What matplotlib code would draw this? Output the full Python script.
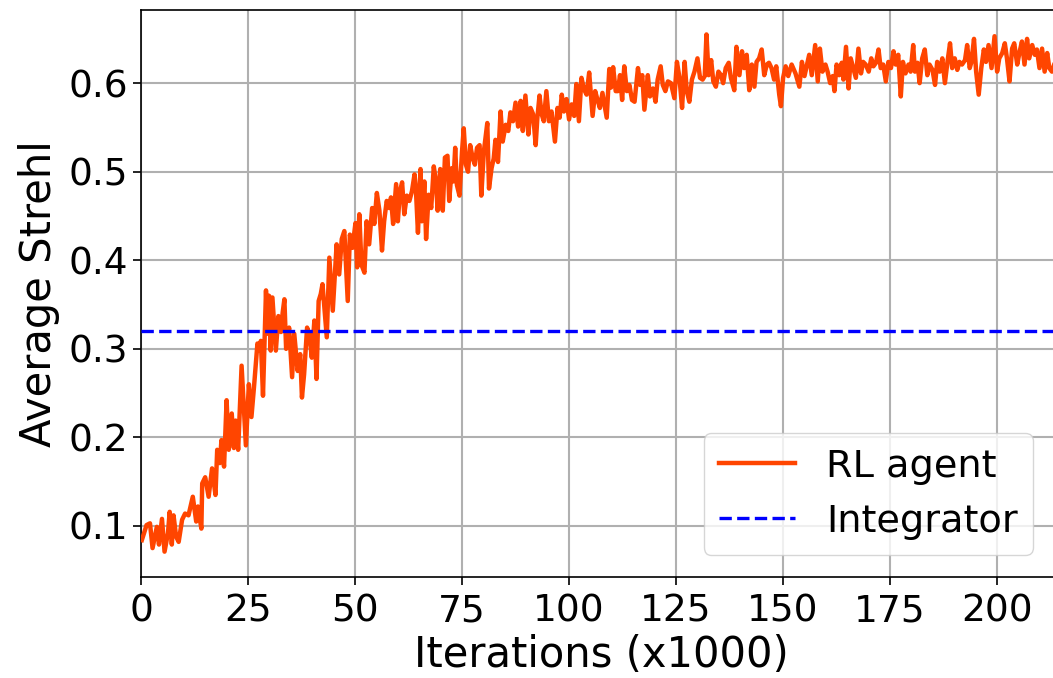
import matplotlib
matplotlib.use("Agg")
import matplotlib.pyplot as plt

# Iterations (x1000) and average Strehl of the RL agent
iterations = [
    0.2, 1.3, 2.1, 2.7, 3.7, 4.2, 4.9, 5.5, 6.3, 6.7, 7.2, 7.6, 8.2, 8.8, 9.6, 10.3,
    11.1, 12.1, 12.9, 13.3, 14.1, 14.3, 15.0, 15.8, 16.6, 17.4, 17.8, 18.4, 18.8, 19.4,
    20.0, 20.5, 21.2, 21.7, 22.1, 22.7, 23.5, 24.5, 25.2, 25.8, 26.4, 27.2, 27.6, 28.0,
    28.5, 29.2, 29.5, 29.9, 30.3, 30.7, 31.5, 32.1, 32.7, 33.1, 33.5, 33.9, 34.6, 35.3,
    35.8, 36.6, 37.2, 37.6, 38.1, 38.8, 39.3, 39.9, 40.5, 41.0, 41.5, 42.0, 42.4, 43.4,
    44.0, 44.8, 45.7, 46.3, 46.9, 47.5, 48.3, 48.8, 49.4, 50.1, 50.5, 51.0, 51.5, 52.2,
    52.7, 53.3, 54.0, 54.5, 55.1, 55.7, 56.3, 56.8, 57.4, 58.0, 58.4, 58.9, 59.6, 60.0,
    60.5, 61.0, 61.5, 62.1, 62.7, 63.3, 63.9, 64.2, 64.7, 65.3, 65.6, 66.2, 66.6, 67.2,
    67.8, 68.4, 68.9, 69.3, 69.9, 70.5, 71.0, 71.6, 72.0, 72.6, 73.0, 73.4, 73.8, 74.4,
    75.0, 75.4, 75.9, 76.4, 76.9, 77.5, 78.0, 78.5, 79.1, 79.5, 80.1, 80.9, 81.3, 81.9,
    82.4, 82.8, 83.4, 84.0, 84.5, 85.2, 85.8, 86.3, 86.9, 87.5, 88.1, 88.7, 89.2, 89.8,
    90.5, 91.0, 91.6, 92.2, 92.6, 93.1, 93.6, 94.1, 94.7, 95.3, 95.9, 96.7, 97.3, 97.8,
    98.3, 98.8, 99.4, 100.0, 100.6, 101.2, 101.7, 102.3, 102.9, 103.5, 104.1, 104.7,
    105.5, 106.1, 106.6, 107.2, 107.8, 108.4, 108.8, 109.4, 109.8, 110.3, 110.9, 111.4,
    111.9, 112.4, 112.9, 113.5, 114.1, 114.7, 115.3, 116.1, 116.6, 117.1, 117.6, 118.4,
    118.9, 119.6, 120.2, 120.7, 121.4, 121.9, 122.5, 123.1, 123.8, 124.6, 125.2, 125.8,
    126.4, 127.0, 127.5, 128.1, 128.7, 129.3, 130.0, 130.6, 131.2, 131.7, 132.1, 132.6,
    133.2, 133.7, 134.3, 134.9, 135.5, 136.0, 136.6, 137.3, 137.8, 138.6, 139.1, 139.8,
    140.4, 140.9, 141.5, 142.1, 142.7, 143.3, 143.8, 144.4, 145.0, 145.6, 146.2, 146.7,
    147.3, 147.9, 148.4, 149.1, 149.5, 150.0, 150.6, 151.2, 152.0, 152.9, 153.8, 154.4,
    155.0, 155.5, 156.1, 156.7, 157.5, 158.1, 158.6, 159.2, 159.9, 160.4, 161.0, 161.6,
    162.0, 162.5, 163.1, 163.7, 164.1, 164.7, 165.3, 165.8, 166.4, 167.0, 167.6, 168.2,
    168.7, 169.3, 170.0, 170.6, 171.1, 171.7, 172.3, 172.8, 173.4, 174.0, 174.6, 175.2,
    175.8, 176.3, 176.9, 177.5, 178.0, 178.6, 179.3, 179.8, 180.4, 180.8, 181.4, 181.9,
    182.5, 183.1, 183.7, 184.2, 184.9, 185.5, 186.0, 186.6, 187.2, 187.8, 188.4, 189.0,
    189.5, 190.1, 190.7, 191.2, 191.8, 192.5, 193.0, 193.6, 194.0, 194.6, 195.1, 195.7,
    196.3, 196.9, 197.4, 198.0, 198.7, 199.4, 200.0, 200.5, 201.2, 201.8, 202.3, 202.9,
    203.5, 204.0, 204.7, 205.2, 205.8, 206.4, 207.0, 207.5, 208.2, 208.8, 209.3, 209.9,
    210.5, 211.1, 211.7, 212.2, 212.8, 213.6,
]
strehl = [
    0.084, 0.101, 0.103, 0.075, 0.099, 0.079, 0.108, 0.071, 0.092, 0.116, 0.079, 0.112,
    0.088, 0.082, 0.107, 0.114, 0.112, 0.133, 0.105, 0.122, 0.097, 0.148, 0.155, 0.133,
    0.165, 0.135, 0.186, 0.171, 0.197, 0.167, 0.242, 0.186, 0.227, 0.188, 0.219, 0.186,
    0.281, 0.191, 0.260, 0.223, 0.257, 0.306, 0.298, 0.309, 0.247, 0.366, 0.317, 0.360,
    0.298, 0.358, 0.298, 0.337, 0.319, 0.341, 0.356, 0.300, 0.324, 0.268, 0.317, 0.275,
    0.294, 0.245, 0.271, 0.324, 0.317, 0.290, 0.332, 0.266, 0.354, 0.362, 0.373, 0.313,
    0.403, 0.343, 0.418, 0.384, 0.424, 0.433, 0.354, 0.429, 0.414, 0.442, 0.392, 0.452,
    0.395, 0.386, 0.444, 0.418, 0.459, 0.441, 0.476, 0.456, 0.411, 0.444, 0.467, 0.459,
    0.471, 0.441, 0.486, 0.444, 0.478, 0.488, 0.452, 0.473, 0.467, 0.478, 0.497, 0.482,
    0.431, 0.503, 0.444, 0.489, 0.424, 0.474, 0.459, 0.506, 0.489, 0.456, 0.503, 0.456,
    0.516, 0.518, 0.467, 0.504, 0.489, 0.527, 0.485, 0.473, 0.523, 0.549, 0.508, 0.500,
    0.530, 0.515, 0.508, 0.527, 0.530, 0.473, 0.523, 0.555, 0.481, 0.504, 0.515, 0.536,
    0.511, 0.568, 0.534, 0.553, 0.546, 0.567, 0.557, 0.578, 0.551, 0.580, 0.546, 0.586,
    0.542, 0.572, 0.565, 0.530, 0.561, 0.586, 0.565, 0.557, 0.591, 0.557, 0.568, 0.534,
    0.572, 0.561, 0.587, 0.568, 0.582, 0.559, 0.576, 0.563, 0.599, 0.557, 0.606, 0.593,
    0.587, 0.612, 0.563, 0.591, 0.582, 0.572, 0.589, 0.572, 0.561, 0.616, 0.595, 0.618,
    0.591, 0.591, 0.609, 0.581, 0.619, 0.591, 0.598, 0.581, 0.579, 0.617, 0.598, 0.609,
    0.570, 0.609, 0.585, 0.594, 0.579, 0.604, 0.619, 0.598, 0.591, 0.602, 0.600, 0.583,
    0.624, 0.606, 0.572, 0.624, 0.591, 0.579, 0.604, 0.613, 0.628, 0.606, 0.604, 0.608,
    0.655, 0.609, 0.626, 0.602, 0.596, 0.613, 0.609, 0.600, 0.617, 0.623, 0.606, 0.592,
    0.641, 0.609, 0.636, 0.617, 0.632, 0.592, 0.621, 0.596, 0.624, 0.628, 0.638, 0.609,
    0.621, 0.623, 0.617, 0.604, 0.619, 0.587, 0.574, 0.606, 0.619, 0.608, 0.621, 0.611,
    0.596, 0.624, 0.608, 0.619, 0.632, 0.609, 0.643, 0.602, 0.639, 0.613, 0.621, 0.613,
    0.600, 0.608, 0.591, 0.621, 0.609, 0.623, 0.604, 0.641, 0.594, 0.628, 0.617, 0.606,
    0.639, 0.611, 0.624, 0.621, 0.613, 0.628, 0.619, 0.623, 0.638, 0.617, 0.621, 0.602,
    0.624, 0.617, 0.636, 0.621, 0.632, 0.585, 0.624, 0.611, 0.621, 0.613, 0.643, 0.613,
    0.623, 0.600, 0.628, 0.638, 0.609, 0.621, 0.615, 0.598, 0.624, 0.613, 0.628, 0.600,
    0.624, 0.645, 0.617, 0.628, 0.615, 0.624, 0.621, 0.626, 0.643, 0.617, 0.624, 0.650,
    0.613, 0.587, 0.617, 0.638, 0.624, 0.643, 0.617, 0.653, 0.613, 0.628, 0.634, 0.645,
    0.628, 0.602, 0.639, 0.645, 0.621, 0.634, 0.647, 0.621, 0.650, 0.628, 0.643, 0.632,
    0.638, 0.617, 0.639, 0.613, 0.634, 0.617, 0.613, 0.625,
]
integrator_strehl = 0.32

x_ticks = [0, 25, 50, 75, 100, 125, 150, 175, 200]
y_ticks = [0.1, 0.2, 0.3, 0.4, 0.5, 0.6]

fig = plt.figure(figsize=(10.53, 6.78), dpi=100)
ax = fig.add_axes([0.1339, 0.149, 0.874, 0.836])

ax.plot(iterations, strehl, color="#FF4500", lw=3.2, label="RL agent", zorder=3)
ax.axhline(integrator_strehl, color="#0000FF", lw=2.4, ls="--", label="Integrator", zorder=4)

ax.set_xlim(0, 215)
ax.set_ylim(0.0424, 0.6824)
ax.set_xticks(x_ticks)
ax.set_yticks(y_ticks)
ax.set_yticklabels([f"{v:.1f}" for v in y_ticks])
ax.grid(True, color="#b0b0b0", lw=1.5)
ax.set_axisbelow(True)
ax.tick_params(labelsize=27, length=6, width=1.2)
ax.tick_params(axis="x", pad=6)
for s in ax.spines.values():
    s.set_linewidth(1.2)

ax.set_xlabel("Iterations (x1000)", fontsize=30, labelpad=3)
ax.set_ylabel("Average Strehl", fontsize=30, labelpad=6)

leg = ax.legend(loc="lower right", fontsize=27.5, bbox_to_anchor=(0.99, 0.005),
                handlelength=2.0, framealpha=0.8)

fig.savefig("out.png", dpi=100)
